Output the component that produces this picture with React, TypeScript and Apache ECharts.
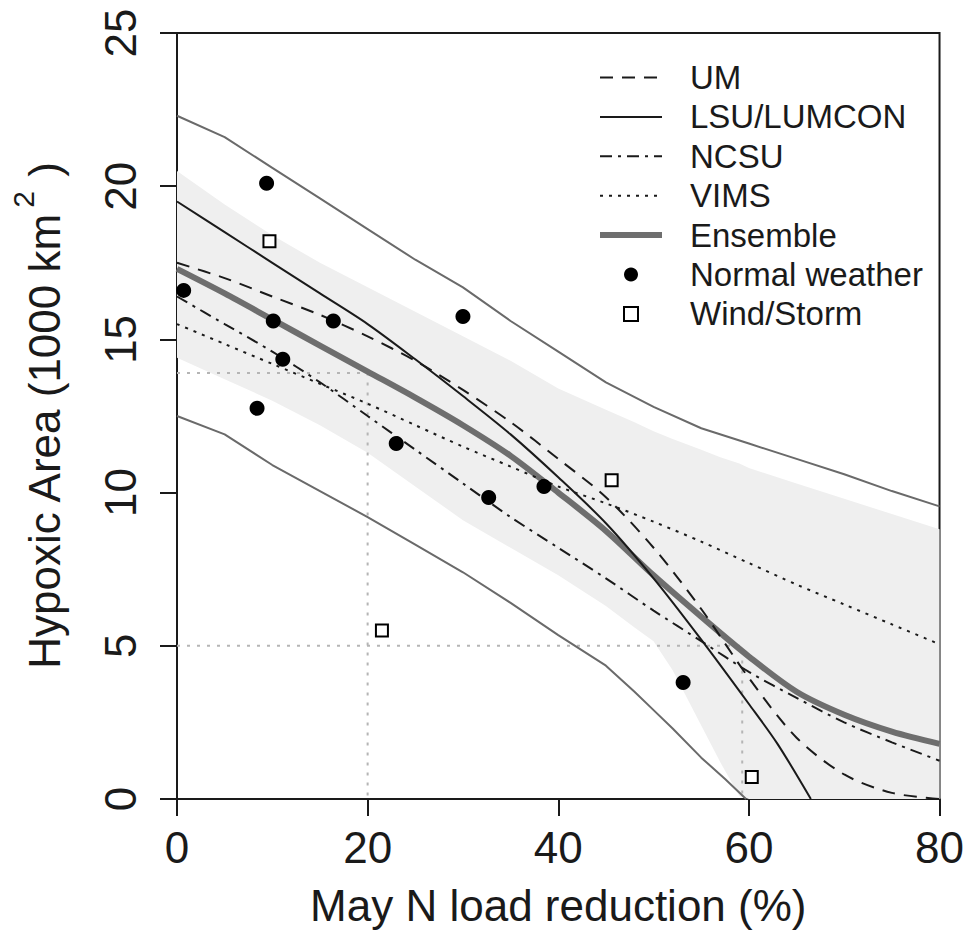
import React, { useEffect, useRef } from "react";
import * as echarts from "echarts";

const FONT = "'Liberation Sans', Arial, Helvetica, sans-serif";

// x grid for model curves (% May N load reduction)
const xs = [0, 5, 10, 15, 20, 25, 30, 35, 40, 45, 50, 55, 60, 65, 70, 75, 80];
const umY = [17.5, 17.0, 16.4, 15.8, 15.1, 14.3, 13.35, 12.3, 11.1, 9.85, 8.2, 6.2, 3.95, 2.0, 0.8, 0.2, 0.0];
const ncsuY = [16.4, 15.5, 14.6, 13.6, 12.5, 11.4, 10.3, 9.2, 8.2, 7.2, 6.15, 5.15, 4.15, 3.3, 2.5, 1.85, 1.25];
const vimsY = [15.5, 14.85, 14.2, 13.55, 12.9, 12.2, 11.5, 10.85, 10.2, 9.65, 9.05, 8.4, 7.7, 7.0, 6.35, 5.7, 5.05];
const ensY = [17.3, 16.5, 15.65, 14.8, 13.95, 13.1, 12.2, 11.2, 10.0, 8.75, 7.3, 5.95, 4.65, 3.5, 2.75, 2.2, 1.8];
const upperY = [22.3, 21.6, 20.6, 19.6, 18.6, 17.6, 16.7, 15.6, 14.6, 13.6, 12.8, 12.1, 11.6, 11.1, 10.6, 10.05, 9.55];

const lsuX = [0, 5, 10, 15, 20, 25, 30, 35, 40, 45, 50, 55, 60, 63, 66.5];
const lsuY = [19.5, 18.5, 17.5, 16.5, 15.5, 14.35, 13.15, 11.9, 10.5, 9.0, 7.2, 5.2, 3.1, 1.8, 0];

const lowerX = [0, 5, 10, 15, 20, 25, 30, 35, 40, 45, 48, 50, 52, 55, 57.5, 59.7];
const lowerY = [12.5, 11.9, 10.9, 10.05, 9.2, 8.3, 7.4, 6.4, 5.35, 4.35, 3.5, 2.9, 2.3, 1.35, 0.65, 0];

// shaded band
const bandX = [0, 5, 10, 15, 20, 25, 30, 35, 40, 45, 48, 50, 52, 55, 57, 59, 60, 65, 70, 75, 80];
const bandUpper = [20.5, 19.4, 18.4, 17.5, 16.7, 15.9, 15.1, 14.3, 13.4, 12.7, 12.3, 12.0, 11.75, 11.4, 11.15, 10.95, 10.8, 10.3, 9.8, 9.3, 8.8];
const bandLower = [14.4, 13.7, 13.0, 12.2, 11.3, 10.2, 9.1, 8.2, 7.3, 6.3, 5.6, 5.15, 4.2, 2.4, 1.2, 0.1, 0, 0, 0, 0, 0];

// reference guide lines
const refAX = [0, 20, 20];
const refAY = [13.9, 13.9, 0];
const refBX = [0, 59.3, 59.3];
const refBY = [5, 5, 0];

// observations
const normalX = [0.7, 9.4, 8.4, 10.1, 11.1, 16.4, 23.0, 30.0, 32.7, 38.5, 53.1];
const normalY = [16.6, 20.1, 12.75, 15.6, 14.35, 15.6, 11.6, 15.75, 9.84, 10.2, 3.8];
const stormX = [9.7, 21.5, 45.6, 60.3];
const stormY = [18.2, 5.5, 10.4, 0.72];

const xTicks = { min: 0, max: 80, interval: 20 };
const yTicks = { min: 0, max: 25, interval: 5 };

const zip = (a: number[], b: number[]) => a.map((v, i) => [v, b[i]]);

export default function App() {
  const ref = useRef<HTMLDivElement>(null);
  useEffect(() => {
    document.body.style.margin = "0";
    const chart = echarts.init(ref.current!, null, { renderer: "svg" });
    const black = "#1a1a1a";
    const lineBase = (name: string, data: number[][], style: any, z = 3, smooth: any = 0.3) => ({
      name,
      type: "line",
      data,
      showSymbol: false,
      symbol: "none",
      smooth,
      lineStyle: style,
      itemStyle: { color: style.color },
      z,
      silent: true,
    });
    const hideDot = { itemStyle: { opacity: 0 } };
    const option: any = {
      animation: false,
      backgroundColor: "#ffffff",
      grid: {
        left: 175,
        right: 26,
        top: 33,
        bottom: 135,
        show: true,
        borderColor: black,
        borderWidth: 2,
        backgroundColor: "transparent",
      },
      xAxis: {
        type: "value",
        ...xTicks,
        axisLine: { show: true, lineStyle: { color: black, width: 2 } },
        axisTick: { show: true, length: 17, lineStyle: { color: black, width: 2 } },
        axisLabel: { fontSize: 44, fontFamily: FONT, color: black, margin: 26 },
        splitLine: { show: false },
        name: "May N load reduction (%)",
        nameLocation: "middle",
        nameGap: 84,
        nameTextStyle: { fontSize: 44, fontFamily: FONT, color: black },
      },
      yAxis: {
        type: "value",
        ...yTicks,
        axisLine: { show: true, lineStyle: { color: black, width: 2 } },
        axisTick: { show: true, length: 17, lineStyle: { color: black, width: 2 } },
        axisLabel: { fontSize: 44, fontFamily: FONT, color: black, margin: 35, rotate: 90 },
        splitLine: { show: false },
        name: "{a|Hypoxic Area (1000 km}{s|2}{a| )}",
        nameLocation: "middle",
        nameGap: 111,
        nameRotate: 90,
        nameTextStyle: {
          rich: {
            a: { fontSize: 44, fontFamily: FONT, color: black, lineHeight: 58, verticalAlign: "bottom" },
            s: { fontSize: 30, fontFamily: FONT, color: black, lineHeight: 30, verticalAlign: "top", padding: [0, 2, 0, 5] },
          },
        },
      },
      legend: {
        orient: "vertical",
        left: 597,
        top: 61,
        padding: 0,
        itemWidth: 62,
        itemHeight: 14,
        itemGap: 6.4,
        selectedMode: false,
        textStyle: { fontSize: 33, fontFamily: FONT, color: black, padding: [0, 0, 0, 23] },
        data: [
          { name: "UM", ...hideDot },
          { name: "LSU/LUMCON", ...hideDot },
          { name: "NCSU", ...hideDot },
          { name: "VIMS", ...hideDot },
          { name: "Ensemble", ...hideDot, lineStyle: { width: 6 } },
          { name: "Normal weather" },
          { name: "Wind/Storm", icon: "path://M0,0H10V10H0Z" },
        ],
      },
      series: [
        {
          name: "band",
          type: "custom",
          silent: true,
          z: 1,
          data: bandX.map((x, i) => [x, bandLower[i], bandUpper[i]]),
          encode: { x: 0, y: [1, 2] },
          renderItem: (params: any, api: any) => {
            if (params.dataIndex !== 0) return null;
            const top = bandX.map((x, i) => api.coord([x, bandUpper[i]]));
            const bot = bandX.map((x, i) => api.coord([x, bandLower[i]])).reverse();
            return {
              type: "polygon",
              shape: { points: top.concat(bot), smooth: 0 },
              style: { fill: "#efefef", stroke: "none" },
            };
          },
        },
        lineBase("refA", zip(refAX, refAY), { color: "#b5b5b5", width: 2, type: [3, 7] }, 2, false),
        lineBase("refB", zip(refBX, refBY), { color: "#b5b5b5", width: 2, type: [3, 7] }, 2, false),
        lineBase("upper", zip(xs, upperY), { color: "#6a6a6a", width: 2 }, 2, false),
        lineBase("lower", zip(lowerX, lowerY), { color: "#6a6a6a", width: 2 }, 2, false),
        lineBase("Ensemble", zip(xs, ensY), { color: "#6e6e6e", width: 6 }, 3),
        lineBase("UM", zip(xs, umY), { color: black, width: 2, type: [13, 9] }, 4),
        lineBase("LSU/LUMCON", zip(lsuX, lsuY), { color: black, width: 2 }, 4),
        lineBase("NCSU", zip(xs, ncsuY), { color: black, width: 2, type: [12, 6, 3, 6] }, 4),
        lineBase("VIMS", zip(xs, vimsY), { color: black, width: 2, type: [3, 6] }, 4),
        {
          name: "Normal weather",
          type: "scatter",
          data: zip(normalX, normalY),
          symbol: "circle",
          symbolSize: 15,
          itemStyle: { color: "#000", opacity: 1 },
          z: 5,
          silent: true,
        },
        {
          name: "Wind/Storm",
          type: "scatter",
          data: zip(stormX, stormY),
          symbol: "rect",
          symbolSize: 12,
          itemStyle: { color: "#ffffff", borderColor: "#000", borderWidth: 2, opacity: 1 },
          z: 5,
          silent: true,
        },
      ],
    };
    chart.setOption(option);
    return () => chart.dispose();
  }, []);
  return <div ref={ref} style={{ width: 967, height: 934 }} />;
}
